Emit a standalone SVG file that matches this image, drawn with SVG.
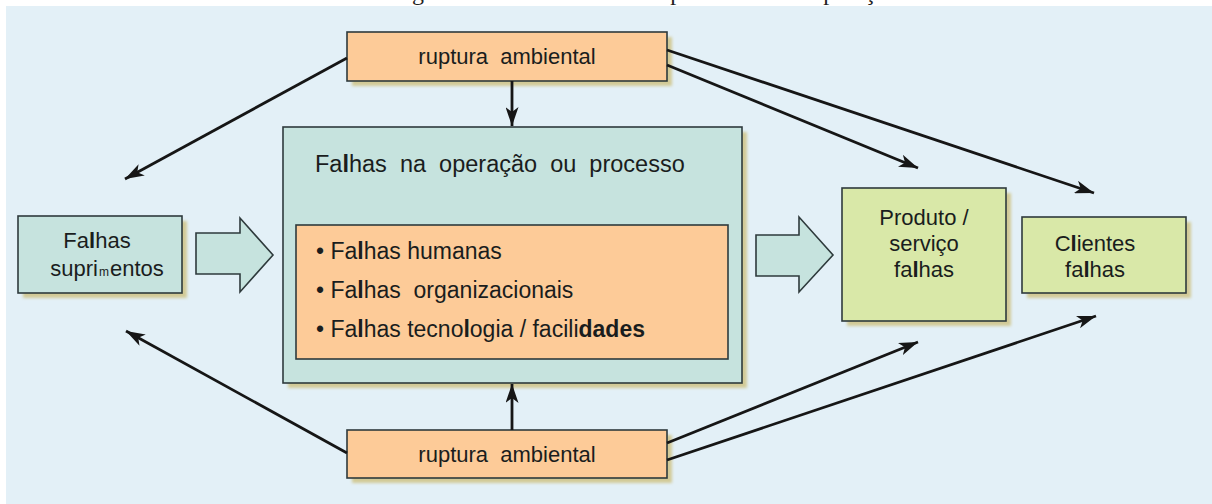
<svg xmlns="http://www.w3.org/2000/svg" width="1212" height="504" viewBox="0 0 1212 504">
  <style>
    .t { font-family: "Liberation Sans", Arial, sans-serif; fill: #1a1d1d; }
    .b { font-weight: bold; }
    .box { stroke: #2e3a3c; stroke-width: 1.6; }
    .teal { fill: #c6e3de; }
    .peach { fill: #fdcb98; }
    .green { fill: #d9e8a8; }
    .sh { fill: #d2ca97; filter: url(#blur); }
    .con { stroke: #161616; stroke-width: 2.8; fill: none; marker-end: url(#ah); }
  </style>
  <defs>
    <filter id="blur" x="-10%" y="-10%" width="120%" height="120%">
      <feGaussianBlur stdDeviation="1.5"/>
    </filter>
    <marker id="ah" markerUnits="userSpaceOnUse" markerWidth="21" markerHeight="13" refX="19" refY="6.5" orient="auto">
      <path d="M0,0 L19,6.5 L0,13 L5,6.5 Z" fill="#161616"/>
    </marker>
  </defs>

  <rect x="0" y="0" width="1212" height="504" fill="#ffffff"/>
  <text x="392" y="-0.5" font-family="Liberation Serif, Times New Roman, serif" font-size="24" fill="#222" textLength="515" lengthAdjust="spacingAndGlyphs">Figura 19.2 Fontes de falhas potenciais nas operações</text>
  <rect x="6" y="6" width="1206" height="498" fill="#e3f0f7"/>

  <g id="ruptura-top">
    <rect class="sh" x="352" y="37" width="320" height="49"/>
    <rect class="box peach" x="347" y="32" width="320" height="49"/>
    <text class="t" x="507" y="64" font-size="22" text-anchor="middle" xml:space="preserve">ruptura  ambiental</text>
  </g>

  <g id="falhas-suprimentos">
    <rect class="sh" x="23" y="221" width="164" height="77"/>
    <rect class="box teal" x="18" y="216" width="164" height="77"/>
    <text class="t" x="97" y="248" font-size="22" text-anchor="middle">Fa<tspan class="b">l</tspan>has</text>
    <text class="t" x="107" y="276" font-size="22" text-anchor="middle">supri<tspan font-size="12" dx="1">m</tspan><tspan dx="1">entos</tspan></text>
  </g>

  <g id="operacao">
    <rect class="sh" x="288" y="132" width="459" height="256"/>
    <rect class="box teal" x="283" y="127" width="459" height="256"/>
    <text class="t" x="315" y="172" font-size="23.5" xml:space="preserve">Fa<tspan class="b">l</tspan>has  na  operação  ou  processo</text>
    <rect class="box peach" x="296" y="225" width="432" height="134"/>
    <text class="t" x="316" y="259" font-size="23">• Fa<tspan class="b">l</tspan>has humanas</text>
    <text class="t" x="316" y="298" font-size="23" xml:space="preserve">• Fa<tspan class="b">l</tspan>has  organizacionais</text>
    <text class="t" x="316" y="337" font-size="23">• Fa<tspan class="b">l</tspan>has tecno<tspan class="b">l</tspan>ogia / facili<tspan class="b">dades</tspan></text>
  </g>

  <g id="produto">
    <rect class="sh" x="847" y="193" width="164" height="133"/>
    <rect class="box green" x="842" y="188" width="164" height="133"/>
    <text class="t" x="924" y="225" font-size="22" text-anchor="middle">Produto /</text>
    <text class="t" x="924" y="251" font-size="22" text-anchor="middle">serviço</text>
    <text class="t" x="924" y="277" font-size="22" text-anchor="middle">fa<tspan class="b">l</tspan>has</text>
  </g>

  <g id="clientes">
    <rect class="sh" x="1027" y="222" width="164" height="76"/>
    <rect class="box green" x="1022" y="217" width="164" height="76"/>
    <text class="t" x="1095" y="251" font-size="22" text-anchor="middle">C<tspan class="b">l</tspan>ientes</text>
    <text class="t" x="1095" y="277" font-size="22" text-anchor="middle">fa<tspan class="b">l</tspan>has</text>
  </g>

  <g id="ruptura-bottom">
    <rect class="sh" x="352" y="435" width="320" height="48"/>
    <rect class="box peach" x="347" y="430" width="320" height="48"/>
    <text class="t" x="507" y="462" font-size="22" text-anchor="middle" xml:space="preserve">ruptura  ambiental</text>
  </g>

  <g id="connectors">
    <path class="box teal" d="M196,233 L240,233 L240,218 L273,255 L240,292 L240,274 L196,274 Z"/>
    <path class="box teal" d="M756,235 L799,235 L799,217 L833,255 L799,292 L799,276 L756,276 Z"/>
    <line class="con" x1="512" y1="81" x2="512" y2="126"/>
    <line class="con" x1="512" y1="430" x2="512" y2="384"/>
    <line class="con" x1="347" y1="58" x2="125" y2="179"/>
    <line class="con" x1="347" y1="453" x2="126" y2="331"/>
    <line class="con" x1="667" y1="65" x2="918" y2="168"/>
    <line class="con" x1="667" y1="50" x2="1094" y2="193"/>
    <line class="con" x1="667" y1="443" x2="918" y2="342"/>
    <line class="con" x1="667" y1="460" x2="1096" y2="316"/>
  </g>
</svg>
